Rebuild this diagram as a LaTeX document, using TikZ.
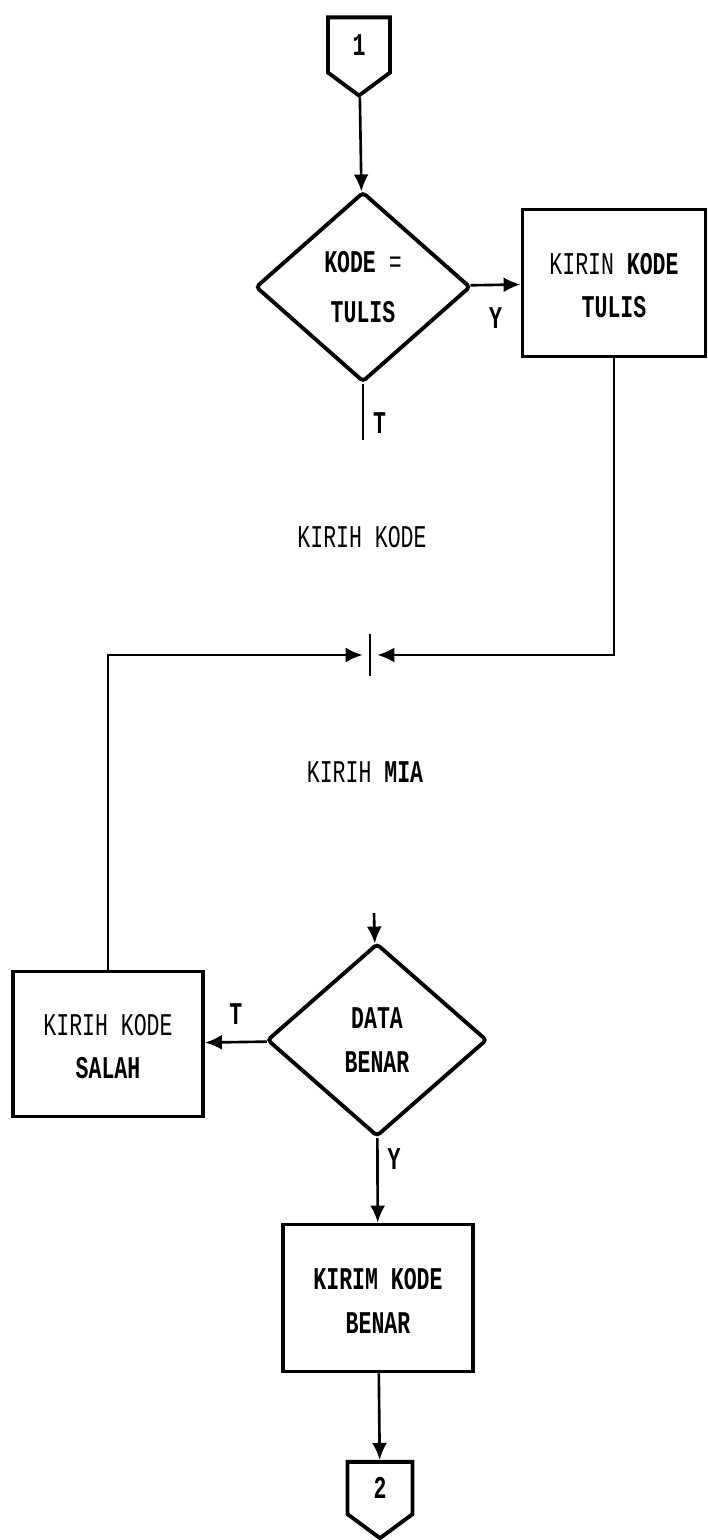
\documentclass[tikz,border=0pt]{standalone}
\usepackage{fontspec}
\setmonofont{Liberation Mono}[FakeStretch=0.68]
\usepackage{tikz}
\usetikzlibrary{shapes.geometric, shapes.symbols, arrows.meta, positioning}
\tikzstyle{procbox} = [rectangle, draw=black, line width=2.2pt, minimum width=3.8cm, minimum height=2.94cm, text centered, align=center, inner sep=0pt, execute at begin node={\rule{0pt}{40pt}}]
\tikzstyle{decision} = [diamond, draw=black, line width=2.2pt, rounded corners=2pt, minimum width=4.3cm, minimum height=3.8cm, inner sep=0pt, align=center, execute at begin node={\rule{0pt}{36pt}}]
\tikzstyle{offpage} = [signal, signal to=south, signal pointer angle=107, draw=black, line width=2.2pt, minimum width=1.24cm, minimum height=1.2cm, inner sep=0pt, font=\ttfamily\bfseries\fontsize{18}{24}\selectfont]
\tikzstyle{arrow} = [line width=1.5pt, -{Latex[length=0.34cm,width=0.3cm]}]
\tikzstyle{plainline} = [line width=1.5pt]
\tikzstyle{lbl} = [font=\ttfamily\bfseries\fontsize{18}{24}\selectfont, inner sep=3pt]

\begin{document}
\begin{tikzpicture}[x=0.02cm, y=-0.02cm, font=\ttfamily\fontsize{18}{25}\selectfont]
    \useasboundingbox (0,0) rectangle (707,1540);

    \node (p1) [offpage] at (359,45) {1};
    \node (tulis?) [decision] at (363,287) {\textbf{KODE} =\\[3pt]\textbf{TULIS}};
    \node (kirtulis) [procbox, minimum width=3.66cm] at (614,283) {KIRIN \textbf{KODE}\\\textbf{TULIS}};
    \coordinate (tend) at (363,440);

    \node (kkode) at (362,537) {KIRIH KODE};
    \node (junc) [minimum width=0.28cm, minimum height=0.82cm, inner sep=0pt] at (370,655) {};
    \node (kmia) at (365,772) {KIRIH \textbf{MIA}};

    \coordinate (din) at (374,913);
    \node (benar?) [decision, minimum width=4.4cm, minimum height=3.86cm] at (377,1040) {\textbf{DATA}\\\textbf{BENAR}};
    \node (salah) [procbox, minimum height=2.9cm] at (108,1044) {KIRIH KODE\\\textbf{SALAH}};
    \node (kbenar) [procbox] at (378,1298) {\textbf{KIRIM KODE}\\\textbf{BENAR}};
    \node (p2) [offpage, minimum width=1.3cm, minimum height=1.14cm] at (380,1488) {2};

    \draw [arrow] (p1) -- (tulis?);
    \draw [arrow] (tulis?) -- node[lbl, below=9pt] {Y} (kirtulis);
    \draw [plainline] (tulis?) -- node[lbl, pos=0.7, right=2pt] {T} (tend);
    \draw [arrow] (kirtulis.south) |- (junc.east);
    \draw [arrow] (salah.north) |- (junc.west);
    \draw [line width=0.8pt] (junc.north) -- (junc.south);
    \draw [arrow] (din) -- (benar?);
    \draw [arrow] (benar?) -- node[lbl, above=6pt] {T} (salah);
    \draw [arrow] (benar?) -- node[lbl, pos=0.25, right=2pt] {Y} (kbenar);
    \draw [arrow] (kbenar) -- (p2);

\end{tikzpicture}
\end{document}
